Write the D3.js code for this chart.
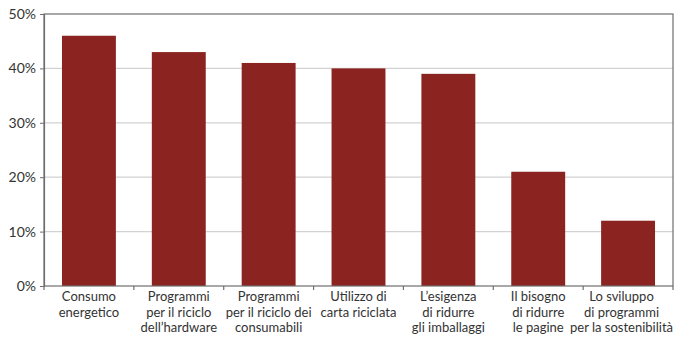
<!DOCTYPE html>
<html><head><meta charset="utf-8">
<script src="https://cdn.jsdelivr.net/npm/d3@7"></script>
<style>body{margin:0;background:#fff}svg{display:block}</style>
</head><body>
<script>
const categories = [
  ["Consumo", "energetico"],
  ["Programmi", "per il riciclo", "dell’hardware"],
  ["Programmi", "per il riciclo dei", "consumabili"],
  ["Utilizzo di", "carta riciclata"],
  ["L’esigenza", "di ridurre", "gli imballaggi"],
  ["Il bisogno", "di ridurre", "le pagine", "stampate"],
  ["Lo sviluppo", "di programmi", "per la sostenibilità"]
];
const values = [46, 43, 41, 40, 39, 21, 12];
const yTicks = [0, 10, 20, 30, 40, 50];

const W = 674, H = 338;
const m = {left: 44, right: 1, top: 14, bottom: 52};
const svg = d3.select("body").append("svg").attr("width", W).attr("height", H);
const font = "Lato, 'Noto Sans', sans-serif";

const x = d3.scaleBand().domain(d3.range(categories.length))
  .range([m.left, W - m.right]).paddingInner(0.4).paddingOuter(0.2);
const y = d3.scaleLinear().domain([0, 50]).range([H - m.bottom, m.top]);

// gridlines
svg.append("g").selectAll("line").data(yTicks.filter(t => t > 0 && t < 50)).join("line")
  .attr("x1", m.left).attr("x2", W - m.right)
  .attr("y1", d => y(d)).attr("y2", d => y(d))
  .attr("stroke", "#d2d2d2").attr("stroke-width", 1.2);

// bars
svg.append("g").selectAll("rect").data(values).join("rect")
  .attr("x", (d, i) => x(i)).attr("width", x.bandwidth())
  .attr("y", d => y(d)).attr("height", d => y(0) - y(d))
  .attr("fill", "#8b2420");

// frame
svg.append("rect").attr("x", m.left).attr("y", y(50))
  .attr("width", W - m.right - m.left).attr("height", y(0) - y(50))
  .attr("fill", "none").attr("stroke", "#6e6e6e").attr("stroke-width", 1.2);

// y axis
const yAxis = svg.append("g").attr("transform", `translate(${m.left},0)`)
  .call(d3.axisLeft(y).tickValues(yTicks).tickFormat(d => d + "%").tickSize(4).tickPadding(4));
yAxis.select(".domain").attr("stroke", "#6e6e6e").attr("stroke-width", 1.2);
yAxis.selectAll(".tick line").attr("stroke", "#6e6e6e");
yAxis.selectAll("text").attr("font-family", font).attr("font-size", 14).attr("fill", "#333");

// x ticks at band boundaries
const step = x.step();
const bounds = d3.range(categories.length + 1).map(i => m.left + i * step);
svg.append("g").selectAll("line").data(bounds).join("line")
  .attr("x1", d => d).attr("x2", d => d)
  .attr("y1", y(0)).attr("y2", y(0) + 4)
  .attr("stroke", "#6e6e6e").attr("stroke-width", 1.2);

// x labels
const lab = svg.append("g").selectAll("text").data(categories).join("text")
  .attr("x", (d, i) => x(i) + x.bandwidth() / 2)
  .attr("y", y(0) + 15)
  .attr("text-anchor", "middle")
  .attr("font-family", font).attr("font-size", 13).attr("fill", "#333");
lab.selectAll("tspan").data(d => d).join("tspan")
  .attr("x", function() { return d3.select(this.parentNode).attr("x"); })
  .attr("dy", (d, i) => i === 0 ? 0 : 15.5)
  .text(d => d);
// keep labels inside the right edge
lab.each(function() {
  const t = d3.select(this);
  const cx = +t.attr("x");
  let maxW = 0;
  t.selectAll("tspan").each(function() { maxW = Math.max(maxW, this.getComputedTextLength()); });
  const over = cx + maxW / 2 - (W - 1);
  if (over > 0) {
    const nx = cx - over;
    t.attr("x", nx);
    t.selectAll("tspan").attr("x", nx);
  }
});
</script>
</body></html>
